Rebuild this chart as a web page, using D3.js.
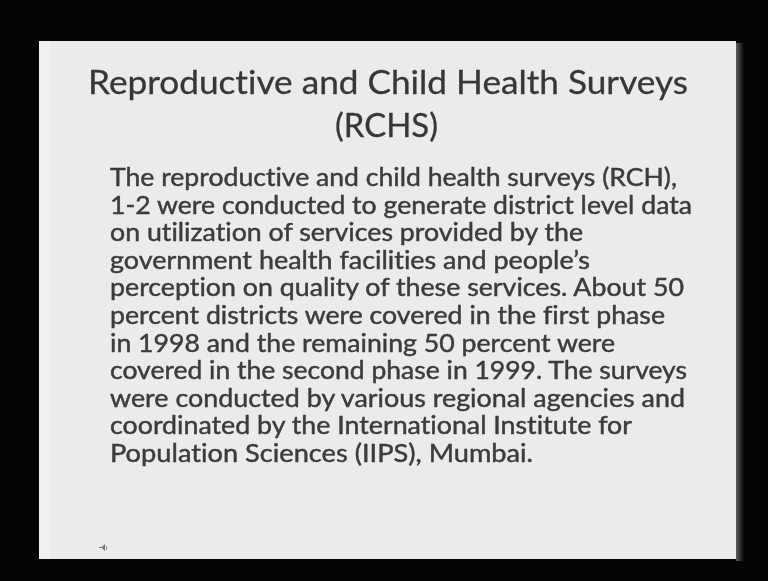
<!DOCTYPE html>
<html>
<head>
<meta charset="utf-8">
<script src="https://cdn.jsdelivr.net/npm/d3@7"></script>
<style>
  html, body { margin: 0; padding: 0; background: #050505; }
  svg { display: block; }
  text { font-variant-ligatures: none; font-feature-settings: "liga" 0, "clig" 0; }
</style>
</head>
<body>
<svg id="slide" width="768" height="581"></svg>
<script>
// slide text
var titleLines = ['Reproductive and Child Health Surveys', '(RCHS)'];
var bodyLines = [
    'The reproductive and child health surveys (RCH),',
    '1-2 were conducted to generate district level data',
    'on utilization of services provided by the',
    'government health facilities and people\u2019s',
    'perception on quality of these services. About 50',
    'percent districts were covered in the first phase',
    'in 1998 and the remaining 50 percent were',
    'covered in the second phase in 1999. The surveys',
    'were conducted by various regional agencies and',
    'coordinated by the International Institute for',
    'Population Sciences (IIPS), Mumbai.'
];
// right edge of each body line
var bodyLineEnds = [677, 692, 583, 590, 684, 665, 615, 687, 685, 632, 533];
var titleLineSpans = [[88, 688], [335, 438]];

var svg = d3.select('#slide');
var W = 768, H = 581;

var defs = svg.append('defs');
defs.append('filter').attr('id', 'soft')
    .append('feGaussianBlur').attr('stdDeviation', 0.6);

var shadow = defs.append('linearGradient').attr('id', 'shade');
shadow.append('stop').attr('offset', '0%').attr('stop-color', '#5d605e');
shadow.append('stop').attr('offset', '100%').attr('stop-color', '#050505');

var page = { x0: 39, x1: 736, y0: 41, y1: 559 };

svg.append('rect').attr('width', W).attr('height', H).attr('fill', '#050505');
svg.append('rect')
    .attr('x', page.x1).attr('y', page.y0 + 2)
    .attr('width', 8).attr('height', page.y1 - page.y0)
    .attr('fill', 'url(#shade)');
svg.append('rect')
    .attr('x', page.x0).attr('y', page.y0)
    .attr('width', page.x1 - page.x0).attr('height', page.y1 - page.y0)
    .attr('fill', '#e9ecea');
svg.append('rect')
    .attr('x', page.x0).attr('y', page.y0)
    .attr('width', 12).attr('height', page.y1 - page.y0)
    .attr('fill', '#eff1f0');

var font = 'Lato, "Open Sans", sans-serif';

// title rows
var titleY = d3.scaleLinear().domain([0, 1]).range([94, 137]);
svg.append('g').attr('filter', 'url(#soft)')
    .selectAll('text')
    .data(titleLines)
    .join('text')
    .attr('x', function (d, i) { return titleLineSpans[i][0]; })
    .attr('y', function (d, i) { return titleY(i); })
    .attr('textLength', function (d, i) { return titleLineSpans[i][1] - titleLineSpans[i][0]; })
    .attr('lengthAdjust', 'spacingAndGlyphs')
    .attr('font-family', font)
    .attr('font-size', 33)
    .attr('fill', '#353736')
    .attr('stroke', '#353736')
    .attr('stroke-width', 0.3)
    .text(function (d) { return d; });

// body rows
var bodyY = d3.scaleLinear().domain([0, bodyLines.length - 1]).range([186, 462]);
var left = 110;
svg.append('g').attr('filter', 'url(#soft)')
    .selectAll('text')
    .data(bodyLines)
    .join('text')
    .attr('x', left)
    .attr('y', function (d, i) { return bodyY(i); })
    .attr('textLength', function (d, i) { return bodyLineEnds[i] - left; })
    .attr('lengthAdjust', 'spacingAndGlyphs')
    .attr('font-family', font)
    .attr('font-size', 25)
    .attr('fill', '#3a3c3b')
    .attr('stroke', '#3a3c3b')
    .attr('stroke-width', 0.45)
    .text(function (d) { return d; });

// little sound icon, bottom left
var icon = svg.append('g').attr('transform', 'translate(103,548)').attr('filter', 'url(#soft)');
icon.append('path').attr('d', 'M-4,-1 L-1,-1 L2,-4 L2,3 L-1,0 L-4,0 Z').attr('fill', '#707473');
icon.append('path').attr('d', 'M3,-2 Q5,0 3,2').attr('fill', 'none').attr('stroke', '#8a8e8c').attr('stroke-width', 1);
</script>
</body>
</html>
